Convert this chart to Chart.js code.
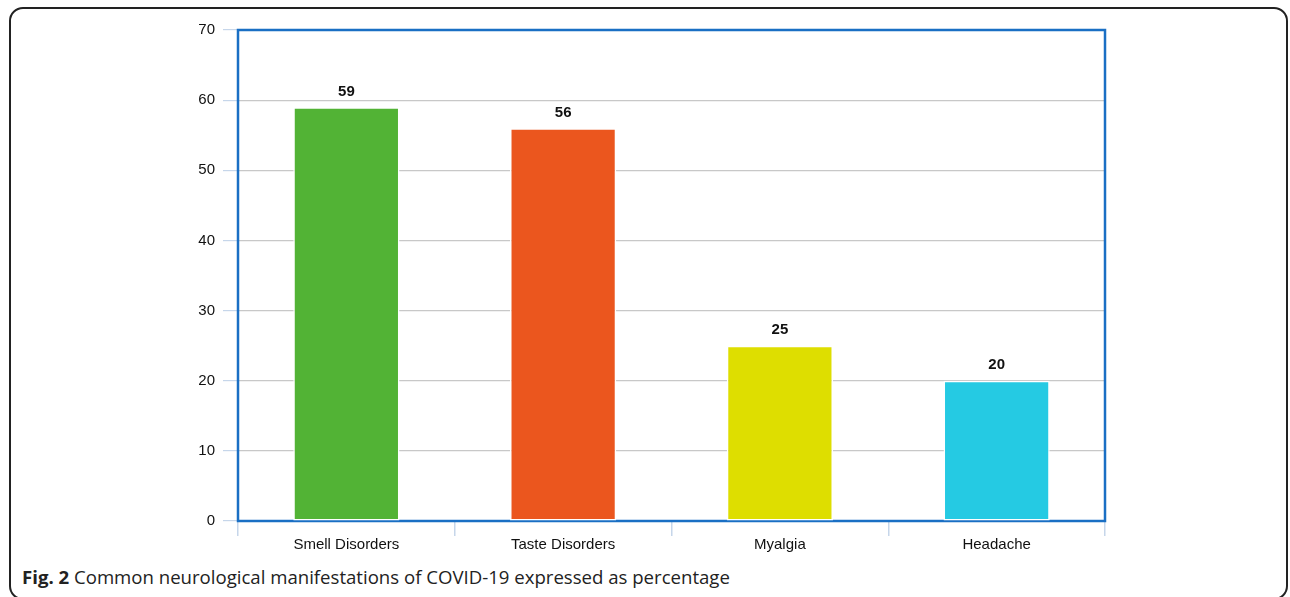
<!DOCTYPE html>
<html>
<head>
<meta charset="utf-8">
<script src="https://cdn.jsdelivr.net/npm/chart.js@4.4.1/dist/chart.umd.min.js"></script>
<style>
  html, body { margin: 0; padding: 0; background: #fff; }
  body { width: 1290px; height: 597px; position: relative; overflow: hidden; }
  .frame {
    position: absolute; left: 9px; top: 7px; width: 1279px; height: 593px;
    border: 2px solid #222; border-radius: 14px; box-sizing: border-box;
  }
  .wrap { position: absolute; left: 0; top: 0; width: 1290px; height: 560px; }
  .caption {
    position: absolute; left: 22px; top: 564px;
    font-family: "Open Sans", "Noto Sans", sans-serif; font-size: 18.6px; color: #222;
    white-space: nowrap;
  }
  .caption b { font-weight: 700; }
</style>
</head>
<body>
<div class="frame"></div>
<div class="wrap"><canvas id="bar_chart"></canvas></div>
<div class="caption"><b>Fig. 2</b> Common neurological manifestations of COVID-19 expressed as percentage</div>
<script>
var categories = ["Smell Disorders", "Taste Disorders", "Myalgia", "Headache"];
var percentages = [59, 56, 25, 20];
var barColors = ["#52b335", "#eb561e", "#dede00", "#25cae3"];
var yTicks = [0, 10, 20, 30, 40, 50, 60, 70];

// blue box round the plot area, drawn under the bars
var plotBorder = {
    id: 'plotBorder',
    beforeDatasetsDraw: function (chart) {
        var a = chart.chartArea, ctx = chart.ctx;
        ctx.save();
        ctx.strokeStyle = '#1a6fc4';
        ctx.lineWidth = 2.5;
        ctx.strokeRect(a.left, a.top, a.right - a.left, a.bottom - a.top);
        ctx.restore();
    }
};

// value labels on top of each bar
var valueLabels = {
    id: 'valueLabels',
    afterDatasetsDraw: function (chart) {
        var ctx = chart.ctx;
        var meta = chart.getDatasetMeta(0);
        ctx.save();
        ctx.font = 'bold 15px "Liberation Sans", Arial, sans-serif';
        ctx.fillStyle = '#111';
        ctx.textAlign = 'center';
        ctx.textBaseline = 'bottom';
        meta.data.forEach(function (bar, i) {
            ctx.fillText(chart.data.datasets[0].data[i], bar.x, bar.y - 8);
        });
        ctx.restore();
    }
};

new Chart(document.getElementById("bar_chart").getContext("2d"), {
    type: 'bar',
    data: {
        labels: categories,
        datasets: [{
            data: percentages,
            backgroundColor: barColors,
            borderColor: '#ffffff',
            borderWidth: 1.5,
            borderSkipped: false,
            categoryPercentage: 1,
            barPercentage: 0.49
        }]
    },
    options: {
        responsive: true,
        maintainAspectRatio: false,
        animation: false,
        layout: { padding: { left: 178, right: 185, top: 30, bottom: 6 } },
        plugins: {
            legend: { display: false },
            tooltip: { enabled: false }
        },
        scales: {
            x: {
                grid: {
                    drawOnChartArea: false,
                    tickLength: 15,
                    tickColor: '#c6d6ea',
                    lineWidth: 1.5
                },
                border: { display: false },
                ticks: {
                    padding: 0,
                    color: '#111',
                    font: { family: '"Liberation Sans", Arial, sans-serif', size: 15 }
                }
            },
            y: {
                min: 0,
                max: 70,
                afterFit: function (scale) { scale.width = 60; },
                afterBuildTicks: function (scale) {
                    scale.ticks = yTicks.map(function (v) { return { value: v }; });
                },
                grid: {
                    color: '#c8c8c8',
                    tickColor: '#c6d6ea',
                    tickLength: 15,
                    lineWidth: 1.2
                },
                border: { display: false },
                ticks: {
                    padding: 8,
                    color: '#111',
                    font: { family: '"Liberation Sans", Arial, sans-serif', size: 15 }
                }
            }
        }
    },
    plugins: [plotBorder, valueLabels]
});
</script>
</body>
</html>
